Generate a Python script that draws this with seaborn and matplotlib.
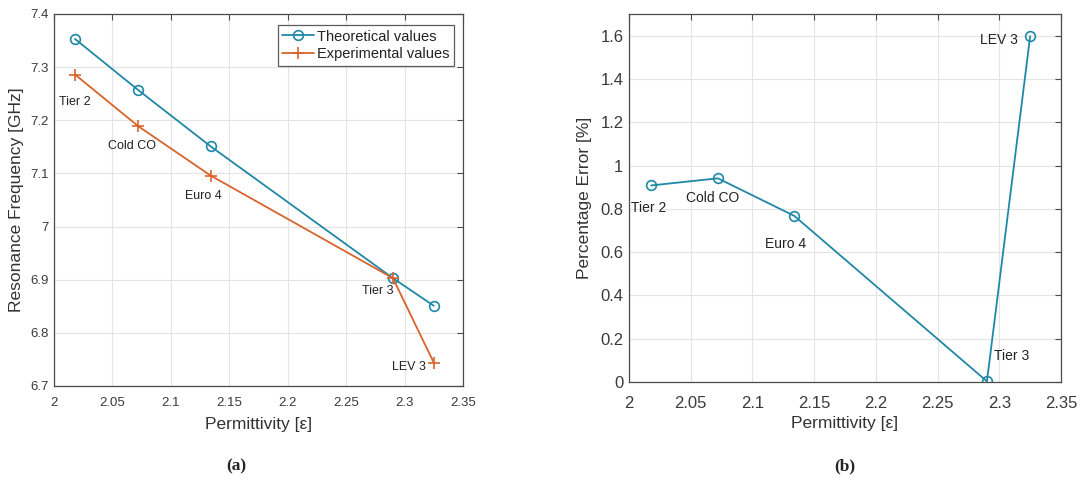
import matplotlib
matplotlib.use("Agg")
import matplotlib.pyplot as plt
import seaborn as sns
import pandas as pd

# ---- data ----
fuels = ["Tier 2", "Cold CO", "Euro 4", "Tier 3", "LEV 3"]
permittivity = [2.018, 2.072, 2.134, 2.290, 2.325]
theoretical = [7.353, 7.257, 7.151, 6.903, 6.851]
experimental = [7.286, 7.189, 7.096, 6.903, 6.744]
pct_error = [0.908, 0.941, 0.767, 0.003, 1.597]

xticks = [2, 2.05, 2.1, 2.15, 2.2, 2.25, 2.3, 2.35]
xtick_labels = ["2", "2.05", "2.1", "2.15", "2.2", "2.25", "2.3", "2.35"]
yticks_a = [6.7, 6.8, 6.9, 7.0, 7.1, 7.2, 7.3, 7.4]
ytick_labels_a = ["6.7", "6.8", "6.9", "7", "7.1", "7.2", "7.3", "7.4"]
yticks_b = [0, 0.2, 0.4, 0.6, 0.8, 1.0, 1.2, 1.4, 1.6]
ytick_labels_b = ["0", "0.2", "0.4", "0.6", "0.8", "1", "1.2", "1.4", "1.6"]

# label positions (data coords)
lab_a_x = [2.018, 2.067, 2.128, 2.277, 2.304]
lab_a_y = [7.235, 7.152, 7.058, 6.879, 6.736]
lab_b_x = [2.016, 2.068, 2.127, 2.310, 2.300]
lab_b_y = [0.805, 0.852, 0.638, 0.119, 1.580]

sns.set_theme(style="white")
plt.rcParams["font.family"] = ["Liberation Sans", "DejaVu Sans"]

BLUE = "#1f88a6"
ORANGE = "#d9632c"
AXC = "#4a4a4a"
GRID = "#e4e4e4"

df = pd.DataFrame({"eps": permittivity, "theo": theoretical,
                   "exp": experimental, "err": pct_error, "fuel": fuels})

fig = plt.figure(figsize=(10.91, 4.82), dpi=100)
ax1 = fig.add_axes([54 / 1091, (482 - 386) / 482, (463 - 54) / 1091, (386 - 14) / 482])
ax2 = fig.add_axes([629 / 1091, (482 - 382) / 482, (1061 - 629) / 1091, (382 - 14) / 482])


def style_axes(ax, tick_fs, xpad, ypad):
    ax.set_xlim(2, 2.35)
    ax.set_xticks(xticks)
    ax.set_xticklabels(xtick_labels)
    ax.grid(True, color=GRID, linewidth=0.8)
    ax.set_axisbelow(True)
    for s in ax.spines.values():
        s.set_visible(True)
        s.set_color(AXC)
        s.set_linewidth(0.9)
    ax.tick_params(direction="in", length=4, width=0.8, colors=AXC,
                   top=True, right=True, labelsize=tick_fs)
    ax.tick_params(axis="x", pad=xpad)
    ax.tick_params(axis="y", pad=ypad)
    for t in ax.get_xticklabels() + ax.get_yticklabels():
        t.set_color("#3a3a3a")


# ---- panel (a) ----
sns.lineplot(data=df, x="eps", y="theo", ax=ax1, sort=False, color=BLUE,
             marker="o", markersize=7, markerfacecolor="none",
             markeredgecolor=BLUE, markeredgewidth=1.2, linewidth=1.3,
             label="Theoretical values")
sns.lineplot(data=df, x="eps", y="exp", ax=ax1, sort=False, color=ORANGE,
             marker="+", markersize=8, markeredgecolor=ORANGE,
             markeredgewidth=1.2, linewidth=1.3, label="Experimental values")
ax1.set_ylim(6.7, 7.4)
ax1.set_yticks(yticks_a)
ax1.set_yticklabels(ytick_labels_a)
style_axes(ax1, 9.5, 8, 4)
ax1.set_xlabel("Permittivity [ε]", fontsize=12.5, color="#333333", labelpad=6)
ax1.set_ylabel("Resonance Frequency [GHz]", fontsize=12.5, color="#333333", labelpad=4)
for name, x, y in zip(fuels, lab_a_x, lab_a_y):
    ax1.text(x, y, name, fontsize=9, color="#222222", ha="center", va="center")
leg = ax1.legend(loc="upper right", bbox_to_anchor=(0.978, 0.97), fontsize=10.5,
                 frameon=True, fancybox=False, handlelength=2.2,
                 borderpad=0.3, labelspacing=0.25, handletextpad=0.2,
                 borderaxespad=0)
leg.get_frame().set_edgecolor("#333333")
leg.get_frame().set_linewidth(0.9)
for t in leg.get_texts():
    t.set_color("#222222")

# ---- panel (b) ----
sns.lineplot(data=df, x="eps", y="err", ax=ax2, sort=False, color=BLUE,
             marker="o", markersize=7, markerfacecolor="none",
             markeredgecolor=BLUE, markeredgewidth=1.2, linewidth=1.3)
ax2.set_ylim(0, 1.7)
ax2.set_yticks(yticks_b)
ax2.set_yticklabels(ytick_labels_b)
style_axes(ax2, 12, 10, 4)
ax2.set_xlabel("Permittivity [ε]", fontsize=12.5, color="#333333", labelpad=4)
ax2.set_ylabel("Percentage Error [%]", fontsize=12.5, color="#333333", labelpad=6)
for name, x, y in zip(fuels, lab_b_x, lab_b_y):
    ax2.text(x, y, name, fontsize=10, color="#222222", ha="center", va="center")

# ---- panel captions ----
fig.text(236 / 1091, 1 - 466 / 482, "(a)", fontsize=12.5, fontweight="bold",
         family=["Liberation Serif", "DejaVu Serif"], ha="center", va="center")
fig.text(845 / 1091, 1 - 466 / 482, "(b)", fontsize=12.5, fontweight="bold",
         family=["Liberation Serif", "DejaVu Serif"], ha="center", va="center")

fig.savefig("out.png", dpi=100, facecolor="white")
